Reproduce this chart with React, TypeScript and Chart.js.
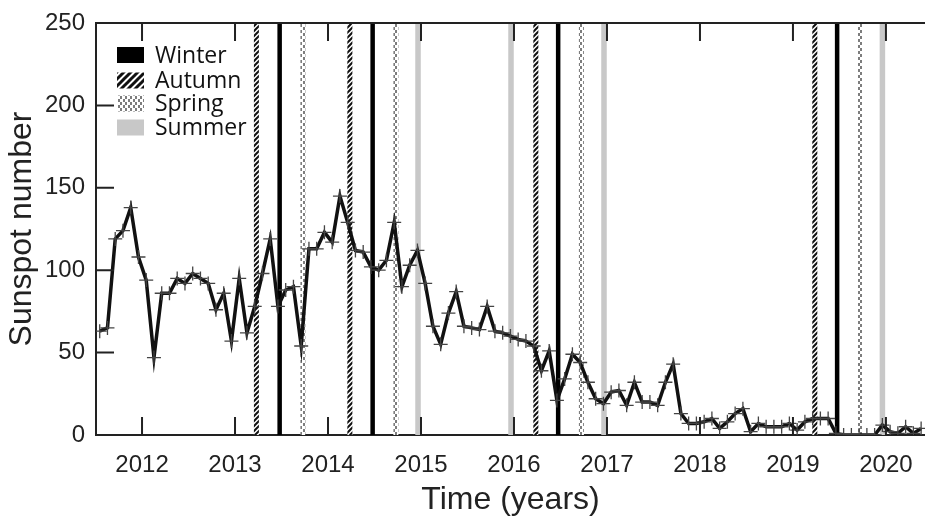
import React, { useEffect, useRef } from 'react';
import { Chart, registerables } from 'chart.js';

Chart.register(...registerables);

// Monthly sunspot numbers, first month at startYear
const startYear = 2011.545;
const sunspots = [
  63, 65, 119, 124, 138, 108, 94, 47, 86, 86,
  95, 92, 98, 95, 92, 76, 86, 57, 95, 62,
  78, 98, 119, 78, 88, 90, 54, 113, 113, 123,
  117, 145, 129, 112, 111, 102, 100, 106, 129, 90,
  103, 112, 92, 66, 55, 74, 87, 66, 65, 64,
  78, 63, 62, 60, 58, 57, 54, 39, 51, 21,
  34, 49, 44, 32, 22, 19, 26, 27, 18, 32,
  20, 20, 18, 32, 43, 13, 7, 7, 8, 10,
  4, 8, 13, 16, 2, 7, 5, 5, 5, 7,
  3, 8, 10, 10, 10, 1, 0, 0, 0, 0,
  0, 6, 2, 1, 5, 1, 4,
];

const xTicks = [2012, 2013, 2014, 2015, 2016, 2017, 2018, 2019, 2020];
const yTicks = [0, 50, 100, 150, 200, 250];

// Southern-hemisphere season starts (decimal years)
const winterTimes = [2013.48, 2014.48, 2016.475, 2019.475];
const autumnTimes = [2013.23, 2014.235, 2016.235, 2019.235];
const springTimes = [2013.73, 2014.73, 2016.725, 2019.725];
const summerTimes = [2014.968, 2015.968, 2016.968, 2019.962];

const seasonNames = ['Winter', 'Autumn', 'Spring', 'Summer'];

function hatchPattern(s: number, lw: number): CanvasPattern | string {
  const c = document.createElement('canvas');
  c.width = s;
  c.height = s;
  const g = c.getContext('2d');
  if (!g) return '#444';
  g.fillStyle = '#ffffff';
  g.fillRect(0, 0, s, s);
  g.strokeStyle = '#111';
  g.lineWidth = lw;
  g.beginPath();
  g.moveTo(0, s);
  g.lineTo(s, 0);
  g.moveTo(-1, 1);
  g.lineTo(1, -1);
  g.moveTo(s - 1, s + 1);
  g.lineTo(s + 1, s - 1);
  g.stroke();
  return g.createPattern(c, 'repeat') as CanvasPattern;
}

function dotPattern(): CanvasPattern | string {
  const c = document.createElement('canvas');
  c.width = 5;
  c.height = 6;
  const g = c.getContext('2d');
  if (!g) return '#aaa';
  g.fillStyle = '#ffffff';
  g.fillRect(0, 0, 5, 6);
  g.fillStyle = '#7d7d7d';
  g.fillRect(0, 0, 2, 3);
  g.fillRect(3, 3, 2, 3);
  return g.createPattern(c, 'repeat') as CanvasPattern;
}

function verticals(times: number[]) {
  const out: { x: number; y: number | null }[] = [];
  times.forEach((t) => {
    out.push({ x: t, y: 0 });
    out.push({ x: t, y: 250 });
    out.push({ x: t, y: null });
  });
  return out;
}

export default function App() {
  const ref = useRef<HTMLCanvasElement | null>(null);

  useEffect(() => {
    document.body.style.margin = '0';
    const canvas = ref.current;
    if (!canvas) return;

    const autumnLine = hatchPattern(5, 2);
    const autumnBox = hatchPattern(7, 3);
    const springFill = dotPattern();

    const legendStyles: (string | CanvasPattern)[] = ['#000000', autumnBox, springFill, '#c8c8c8'];

    const framePlugin = {
      id: 'framePlugin',
      afterDraw(chart: any) {
        const { ctx, chartArea } = chart;
        const { left, right, top, bottom } = chartArea;
        const xs = chart.scales.x;
        const ys = chart.scales.y;
        ctx.save();
        ctx.strokeStyle = '#222';
        ctx.lineWidth = 2;
        ctx.beginPath();
        ctx.moveTo(left - 1, top);
        ctx.lineTo(right, top);
        xTicks.forEach((v) => {
          const px = xs.getPixelForValue(v);
          ctx.moveTo(px, bottom);
          ctx.lineTo(px, bottom - 18);
          ctx.moveTo(px, top);
          ctx.lineTo(px, top + 18);
        });
        yTicks.forEach((v) => {
          const py = ys.getPixelForValue(v);
          ctx.moveTo(left, py);
          ctx.lineTo(left + 18, py);
        });
        ctx.stroke();

        // legend
        const rowY = [55, 80.5, 103.5, 127.5];
        ctx.font = '23px "Open Sans", "DejaVu Sans", sans-serif';
        ctx.textBaseline = 'middle';
        ctx.textAlign = 'left';
        seasonNames.forEach((name, i) => {
          ctx.fillStyle = legendStyles[i];
          ctx.fillRect(117, rowY[i] - 8, 27, 16);
          ctx.fillStyle = '#111';
          ctx.fillText(name, 155, rowY[i] + 1);
        });
        ctx.restore();
      },
    };

    const tickFont = { family: '"Liberation Sans", Arial, Helvetica, sans-serif', size: 24 };
    const titleFont = { family: '"Liberation Sans", Arial, Helvetica, sans-serif', size: 32, lineHeight: 1.2 };

    const chart = new Chart(canvas, {
      type: 'line',
      data: {
        datasets: [
          {
            label: 'Sunspot number',
            data: sunspots.map((v, i) => ({ x: startYear + i / 12, y: v })),
            borderColor: '#111',
            borderWidth: 3.5,
            pointStyle: 'cross',
            pointRadius: 7,
            pointBorderWidth: 1.3,
            pointBorderColor: '#444',
            tension: 0,
            order: 0,
          },
          {
            label: seasonNames[0],
            data: verticals(winterTimes),
            borderColor: '#000',
            borderWidth: 4.5,
            pointRadius: 0,
            spanGaps: false,
            order: 1,
          },
          {
            label: seasonNames[1],
            data: verticals(autumnTimes),
            borderColor: autumnLine as any,
            borderWidth: 5,
            pointRadius: 0,
            spanGaps: false,
            order: 1,
          },
          {
            label: seasonNames[2],
            data: verticals(springTimes),
            borderColor: springFill as any,
            borderWidth: 5,
            pointRadius: 0,
            spanGaps: false,
            order: 1,
          },
          {
            label: seasonNames[3],
            data: verticals(summerTimes),
            borderColor: '#c8c8c8',
            borderWidth: 5.5,
            pointRadius: 0,
            spanGaps: false,
            order: 2,
          },
        ] as any,
      },
      options: {
        responsive: false,
        animation: false,
        events: [],
        layout: { autoPadding: false, padding: { top: 23, right: 0, left: 0, bottom: 0 } },
        plugins: {
          legend: { display: false },
          tooltip: { enabled: false },
        },
        scales: {
          x: {
            type: 'linear',
            min: 2011.505,
            max: 2020.42,
            afterBuildTicks: (s: any) => {
              s.ticks = xTicks.map((v) => ({ value: v }));
            },
            afterFit: (s: any) => {
              s.height = 84;
              s.paddingLeft = 0;
              s.paddingRight = 0;
            },
            ticks: {
              autoSkip: false,
              maxRotation: 0,
              padding: 16,
              color: '#222',
              font: tickFont,
              callback: (v: any) => String(v),
            },
            grid: { display: true, drawOnChartArea: false, drawTicks: false },
            border: { display: true, color: '#222', width: 2 },
            title: {
              display: true,
              text: 'Time (years)',
              color: '#222',
              font: titleFont,
              padding: { top: 0, bottom: 0 },
            },
          },
          y: {
            type: 'linear',
            min: 0,
            max: 250,
            afterBuildTicks: (s: any) => {
              s.ticks = yTicks.map((v) => ({ value: v }));
            },
            afterFit: (s: any) => {
              s.width = 96;
              s.paddingTop = 0;
              s.paddingBottom = 0;
            },
            ticks: {
              padding: 11,
              color: '#222',
              font: tickFont,
              callback: (v: any) => String(v),
            },
            grid: { display: true, drawOnChartArea: false, drawTicks: false },
            border: { display: true, color: '#222', width: 2 },
            title: {
              display: true,
              text: 'Sunspot number',
              color: '#222',
              font: titleFont,
              padding: { top: 3, bottom: 0 },
            },
          },
        },
      },
      plugins: [framePlugin],
    } as any);

    return () => {
      chart.destroy();
    };
  }, []);

  return (
    <div style={{ width: 925, height: 519 }}>
      <canvas ref={ref} width={925} height={519} style={{ display: 'block' }} />
    </div>
  );
}
